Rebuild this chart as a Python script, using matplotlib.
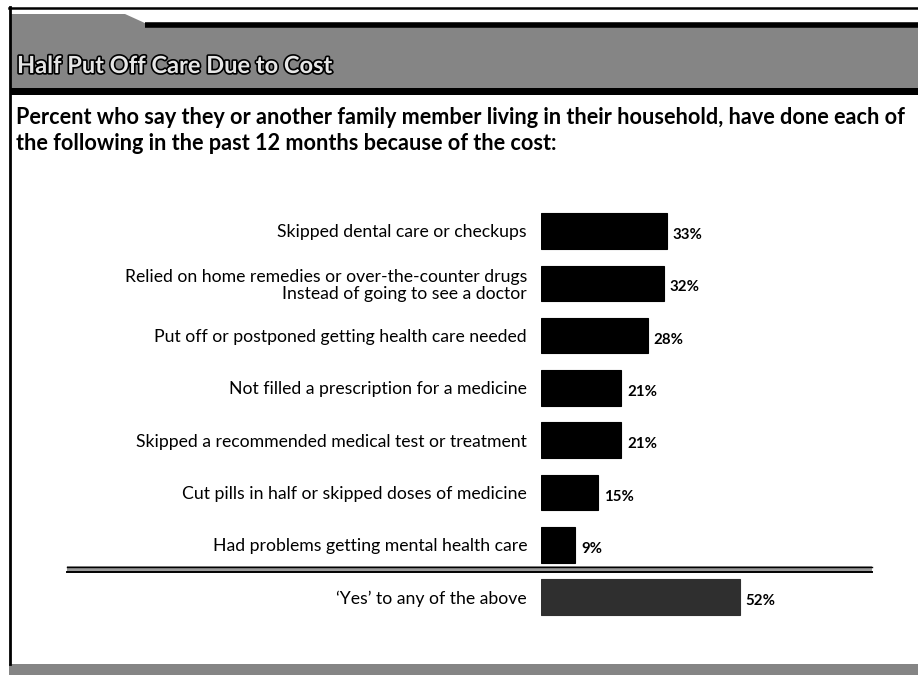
import matplotlib
matplotlib.use("Agg")
import matplotlib.pyplot as plt
import matplotlib.patheffects as pe
from matplotlib.patches import Polygon, Rectangle

# chart data
labels = [
    "Skipped dental care or checkups",
    "Relied on home remedies or over-the-counter drugs\nInstead of going to see a doctor",
    "Put off or postponed getting health care needed",
    "Not filled a prescription for a medicine",
    "Skipped a recommended medical test or treatment",
    "Cut pills in half or skipped doses of medicine",
    "Had problems getting mental health care",
    "\u2018Yes\u2019 to any of the above",
]
values = [33, 32, 28, 21, 21, 15, 9, 52]
title = "Half Put Off Care Due to Cost"
subtitle_1 = "Percent who say they or another family member living in their household, have done each of"
subtitle_2 = "the following in the past 12 months because of the cost:"

plt.rcParams['font.family'] = ['Lato', 'DejaVu Sans']

W, H = 918, 675
fig = plt.figure(figsize=(W / 100, H / 100), dpi=100)
fig.patch.set_facecolor('white')

# background layer in pixel coordinates
bg = fig.add_axes([0, 0, 1, 1], zorder=0)
bg.set_xlim(0, W)
bg.set_ylim(H, 0)
bg.axis('off')

band = '#858585'
bg.add_patch(Polygon([(10, 14), (125, 14), (147, 24), (W, 24), (W, 89), (10, 89)],
                     closed=True, facecolor=band, edgecolor='none'))
bg.plot([145, W], [25, 25], color='black', lw=4, solid_capstyle='butt')
bg.add_patch(Rectangle((10, 88), W - 10, 7, facecolor='black', edgecolor='none'))
bg.plot([9, W], [7.5, 7.5], color='black', lw=1.8)
bg.plot([9.5, 9.5], [7, 664], color='black', lw=2)
bg.add_patch(Rectangle((9, 664), W - 9, 11, facecolor=band, edgecolor='none'))

t = bg.text(17, 73, title, fontsize=17, fontweight='bold', color='#e6e6e6',
            ha='left', va='baseline')
t.set_path_effects([pe.Stroke(linewidth=2.4, foreground='black'), pe.Normal()])

bg.text(16, 124, subtitle_1, fontsize=15.6, fontweight='bold', color='black',
        ha='left', va='baseline')
bg.text(16, 150, subtitle_2, fontsize=15.6, fontweight='bold', color='black',
        ha='left', va='baseline')

# separator above the total row
bg.add_patch(Rectangle((67, 566), 805, 6, facecolor='#9a9a9a', edgecolor='none'))
bg.plot([67, 872], [566.5, 566.5], color='black', lw=1)
bg.plot([67, 872], [571.5, 571.5], color='black', lw=1.4)

# bar chart
px_per_pct = 3.83
top_px, step = 231 - 52.29 / 2, 52.29
n = len(values)
ax_w = 60 * px_per_pct
ax = fig.add_axes([541 / W, (H - (top_px + n * step)) / H, ax_w / W, n * step / H], zorder=1)
ax.patch.set_alpha(0)
ypos = list(range(n))
colors = ['black'] * (n - 1) + ['#2f2f2f']
ax.barh(ypos, values, height=0.68, color=colors, edgecolor=colors, linewidth=0.8)
ax.set_xlim(0, 60)
ax.set_ylim(n - 0.5, -0.5)
ax.set_yticks(ypos)
ax.set_yticklabels(labels, fontsize=12.7, linespacing=1.1)
ax.tick_params(axis='y', length=0, pad=10)
ax.set_xticks([])
for s in ax.spines.values():
    s.set_visible(False)
for y, v in zip(ypos, values):
    ax.annotate(f"{v}%", (v, y), xytext=(4, -3), textcoords='offset points',
                ha='left', va='center', fontsize=10.8, fontweight='bold')

fig.savefig('out.png', dpi=100)
